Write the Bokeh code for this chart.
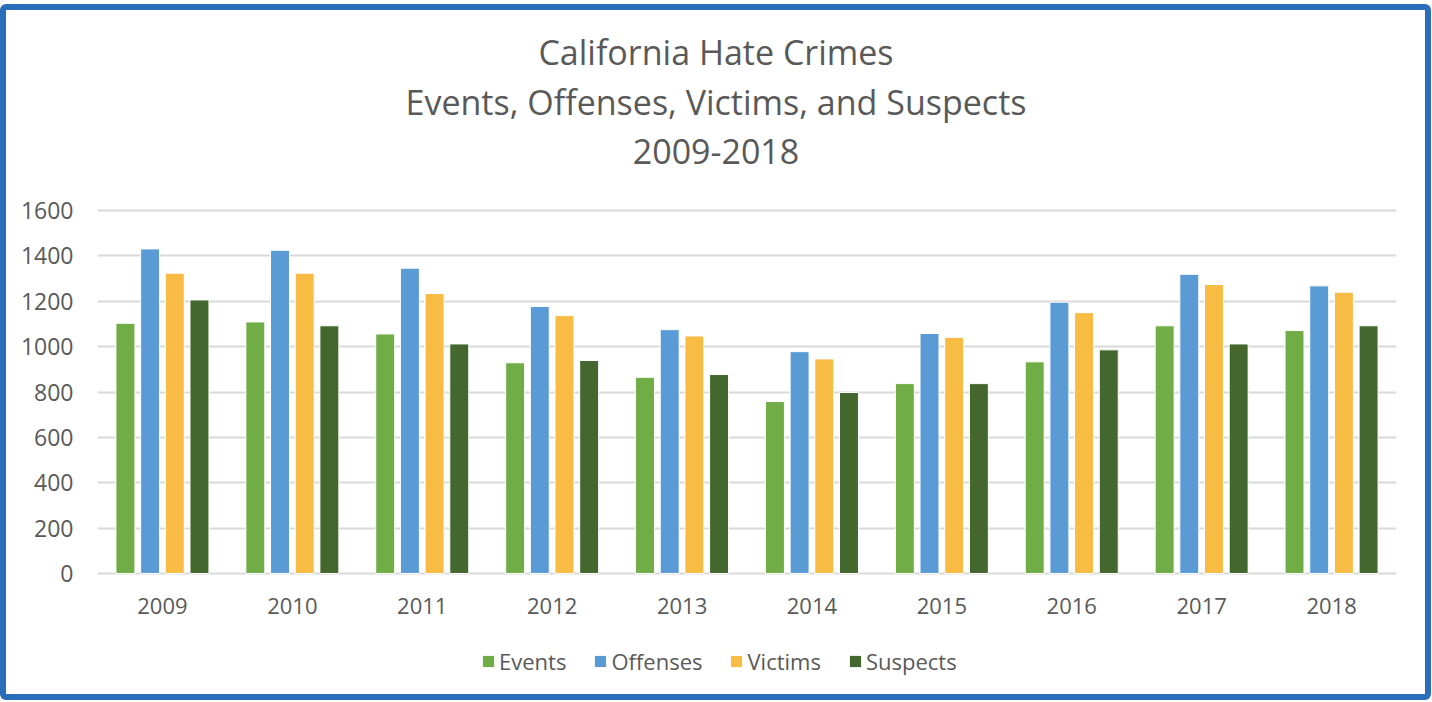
from bokeh.plotting import figure
from bokeh.layouts import column
from bokeh.core.properties import value
from bokeh.models import (FactorRange, Range1d, Legend, LegendItem,
                          FixedTicker, ColumnDataSource)
from bokeh.transform import dodge
from bokeh.embed import file_html
from bokeh.resources import INLINE

years = ["2009", "2010", "2011", "2012", "2013", "2014", "2015", "2016", "2017", "2018"]
events = [1103, 1109, 1056, 929, 865, 758, 837, 933, 1092, 1071]
offenses = [1431, 1425, 1346, 1177, 1075, 978, 1058, 1196, 1319, 1268]
victims = [1324, 1324, 1234, 1137, 1047, 946, 1041, 1150, 1274, 1240]
suspects = [1206, 1092, 1012, 939, 877, 798, 837, 986, 1012, 1092]
series_names = ["Events", "Offenses", "Victims", "Suspects"]
y_ticks = [0, 200, 400, 600, 800, 1000, 1200, 1400, 1600]
title_lines = ["California Hate Crimes", "Events, Offenses, Victims, and Suspects", "2009-2018"]

colors = ["#70AD47", "#5B9BD5", "#F8BB43", "#43672C"]
FONT = "Open Sans"
TXT = "#595959"
W = 1419
BL, BR = 91, 29          # left / right borders shared by all blocks
PX_RANGE = (BL, W - BR)  # pixel-like horizontal range for the text blocks


def bare(fig):
    fig.outline_line_color = None
    fig.axis.visible = False
    fig.grid.visible = False


# ---- title block (pixel-like coordinates inside its own frame) ----
tf = figure(width=W, height=180, output_backend="svg", toolbar_location=None,
            x_range=Range1d(*PX_RANGE), y_range=Range1d(0, 180),
            min_border_left=BL, min_border_right=BR, min_border_top=0,
            min_border_bottom=0, border_fill_color="white")
bare(tf)
title_y = [139, 89, 39]
tf.text(x=[W / 2] * 3, y=title_y, text=title_lines, text_font=value(FONT),
        text_font_size="34px", text_color=TXT, text_align="center",
        text_baseline="middle")

# ---- main chart ----
src = ColumnDataSource(dict(years=years, Events=events, Offenses=offenses,
                            Victims=victims, Suspects=suspects))

p = figure(x_range=FactorRange(*years), y_range=Range1d(-9, 1640),
           width=W, height=440, output_backend="svg", toolbar_location=None,
           min_border_left=BL, min_border_right=BR, min_border_top=11,
           min_border_bottom=55, background_fill_color="white",
           border_fill_color="white")
p.outline_line_color = None

offsets = [-0.285, -0.095, 0.095, 0.285]
for name, off, col in zip(series_names, offsets, colors):
    p.vbar(x=dodge("years", off, range=p.x_range), top=name, width=0.146,
           source=src, fill_color=col, line_color="white", line_width=1)

p.yaxis.ticker = FixedTicker(ticks=y_ticks)
for ax in (p.xaxis, p.yaxis):
    ax.axis_line_color = None
    ax.major_tick_line_color = None
    ax.minor_tick_line_color = None
    ax.major_tick_out = 0
    ax.major_tick_in = 0
    ax.major_label_text_font = FONT
    ax.major_label_text_font_size = "22px"
    ax.major_label_text_color = TXT
p.yaxis.major_label_text_font_size = "23px"
p.yaxis.major_label_standoff = 24
p.xaxis.major_label_standoff = 22

p.xgrid.grid_line_color = None
p.ygrid.grid_line_color = "#D9D9D9"
p.ygrid.grid_line_width = 2

# ---- legend block ----
lf = figure(width=W, height=64, output_backend="svg", toolbar_location=None,
            x_range=Range1d(*PX_RANGE), y_range=Range1d(0, 64),
            min_border_left=BL, min_border_right=BR, min_border_top=0,
            min_border_bottom=0, border_fill_color="white")
bare(lf)
items = []
for name, col in zip(series_names, colors):
    # legend proxy swatch, placed outside the visible range
    r = lf.vbar(x=[0], top=[0], width=1, fill_color=col, line_color=None)
    items.append(LegendItem(label=name, renderers=[r]))
legend = Legend(items=items, orientation="horizontal", location=(384, 18),
                label_text_font=FONT, label_text_font_size="22px",
                label_text_color=TXT, glyph_width=14, glyph_height=14,
                label_standoff=4, spacing=27, border_line_color=None,
                background_fill_alpha=0, margin=0, padding=0)
lf.add_layout(legend, "center")

inner = column(tf, p, lf, spacing=0)
inner.styles = {"background-color": "white"}
layout = column(inner, spacing=0)
layout.styles = {"background-color": "#2A6EBB", "padding": "6px",
                 "border-radius": "6px", "margin-top": "4px"}

open("out.html", "w").write(file_html(layout, INLINE))
